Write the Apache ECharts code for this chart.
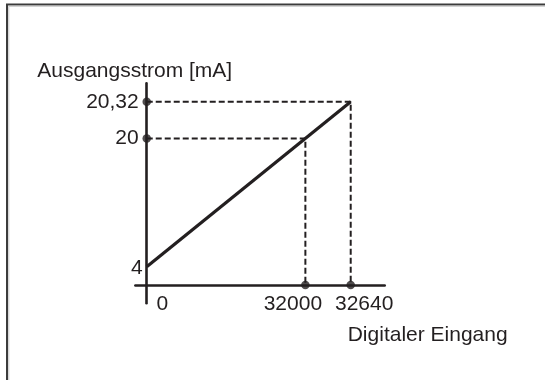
<!DOCTYPE html>
<html>
<head>
<meta charset="utf-8">
<script src="https://cdn.jsdelivr.net/npm/echarts@6/dist/echarts.min.js"></script>
<style>
  html, body { margin: 0; padding: 0; background: #fff; }
  #chart { width: 545px; height: 380px; }
</style>
</head>
<body>
<div id="chart"></div>
<script>
// ---- data ----
const xTickValues = [0, 32000, 32640];        // Digitaler Eingang
const yTickValues = [4, 20, 20.32];           // Ausgangsstrom [mA]
const lineX = [0, 32640];                     // characteristic line
const lineY = [4, 20.32];
const guideX = [32000, 32640];                // dashed guides: digital value
const guideY = [20, 20.32];                   //               current value
const xAxisTitle = 'Digitaler Eingang';
const yAxisTitle = 'Ausgangsstrom [mA]';

// ---- schematic (not to scale) layout: slot index of each tick ----
const X_SLOT_COUNT = 23;
const xTickSlots = [1, 15, 19];
const Y_SLOT_COUNT = 13;
const yTickSlots = [2, 9, 11];
const AXIS_SLOT = 1;   // where the other axis crosses

const xCats = new Array(X_SLOT_COUNT).fill('');
xTickValues.forEach((v, i) => { xCats[xTickSlots[i]] = String(v); });
const yCats = new Array(Y_SLOT_COUNT).fill('');
yTickValues.forEach((v, i) => { yCats[yTickSlots[i]] = String(v); });

const xi = v => xCats.indexOf(String(v));
const yi = v => yCats.indexOf(String(v));

const INK = '#231f20';
const FONT = "'Liberation Sans', Arial, Helvetica, sans-serif";
const FS = 21;

const mainLine = lineX.map((x, i) => [xi(x), yi(lineY[i])]);
const guideSeries = guideX.map((x, i) => ({
  type: 'line',
  data: [[AXIS_SLOT, yi(guideY[i])], [xi(x), yi(guideY[i])], [xi(x), AXIS_SLOT]],
  symbol: 'none',
  silent: true,
  animation: false,
  lineStyle: { color: INK, width: 2, type: [6, 3] },
  z: 2
}));
const dots = [];
guideX.forEach(x => dots.push([xi(x), AXIS_SLOT]));
guideY.forEach(y => dots.push([AXIS_SLOT, yi(y)]));

const xRich = {
  r0: { padding: [0, 0, 0, 31], fontSize: FS, fontFamily: FONT, color: INK },
  r1: { padding: [0, 25, 0, 0], fontSize: FS, fontFamily: FONT, color: INK },
  r2: { padding: [0, 0, 0, 27], fontSize: FS, fontFamily: FONT, color: INK }
};
const yRich = {
  n: { padding: [0, 4, 0, 0], fontSize: FS, fontFamily: FONT, color: INK },
  f: { padding: [4, 0, 0, 0], fontSize: FS, fontFamily: FONT, color: INK }
};

const chart = echarts.init(document.getElementById('chart'), null, { renderer: 'canvas' });
chart.setOption({
  animation: false,
  backgroundColor: '#fff',
  textStyle: { fontFamily: FONT, color: INK },
  grid: { left: 135.4, right: 160.3, top: 83.4, bottom: 76.7, containLabel: false },
  xAxis: {
    type: 'category',
    data: xCats,
    boundaryGap: false,
    offset: -18.33,
    axisLine: { show: true, lineStyle: { color: INK, width: 2.6 } },
    axisTick: { show: false },
    splitLine: { show: false },
    axisLabel: {
      interval: 0,
      margin: 9,
      hideOverlap: false,
      formatter: v => {
        const k = xTickValues.map(String).indexOf(v);
        return k < 0 ? '' : '{r' + k + '|' + v + '}';
      },
      rich: xRich
    },
    name: xAxisTitle,
    nameLocation: 'end',
    nameGap: -37,
    nameTextStyle: { fontSize: FS, fontFamily: FONT, color: INK, align: 'left', verticalAlign: 'top', padding: [40, 0, 0, 0] }
  },
  yAxis: {
    type: 'category',
    data: yCats,
    boundaryGap: false,
    offset: -11.33,
    axisLine: { show: true, lineStyle: { color: INK, width: 2.6 } },
    axisTick: { show: false },
    splitLine: { show: false },
    axisLabel: {
      interval: 0,
      margin: 4,
      hideOverlap: false,
      formatter: v => {
        if (v === '') return '';
        const txt = v.replace('.', ',');
        return Number(v) === yTickValues[0] ? '{f|' + txt + '}' : '{n|' + txt + '}';
      },
      rich: yRich
    },
    name: yAxisTitle,
    nameLocation: 'end',
    nameGap: 2,
    nameTextStyle: { fontSize: FS, fontFamily: FONT, color: INK, align: 'center', verticalAlign: 'bottom', padding: [0, 24, 0, 0] }
  },
  series: [
    ...guideSeries,
    {
      type: 'line',
      data: mainLine,
      symbol: 'none',
      silent: true,
      lineStyle: { color: INK, width: 3.2 },
      z: 3
    },
    {
      type: 'scatter',
      data: dots,
      symbol: 'circle',
      symbolSize: 8.5,
      silent: true,
      itemStyle: { color: INK },
      z: 4
    }
  ],
  graphic: [
    {
      type: 'polyline',
      silent: true,
      shape: { points: [[7, 380], [7, 4.5], [545, 4.5]] },
      style: { stroke: '#3c3c3c', lineWidth: 2, fill: null }
    },
    {
      type: 'polyline',
      silent: true,
      shape: { points: [[8.8, 380], [8.8, 6.3], [545, 6.3]] },
      style: { stroke: '#c8c8c8', lineWidth: 1, fill: null }
    }
  ]
});
</script>
</body>
</html>
